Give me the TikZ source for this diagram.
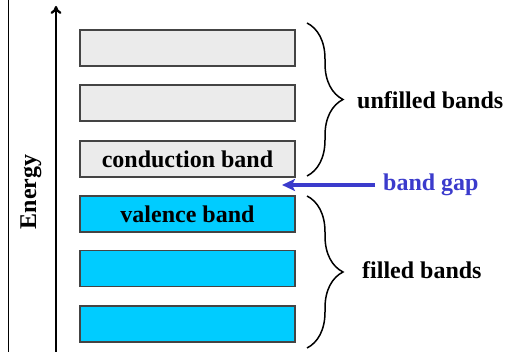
\documentclass[tikz,border=0pt]{standalone}
\usepackage{fontspec}
\setmainfont{Liberation Serif}
\usetikzlibrary{arrows.meta,decorations.pathreplacing}
\definecolor{bandgray}{HTML}{EBEBEB}
\definecolor{bandblue}{HTML}{00CCFF}
\definecolor{gapblue}{HTML}{3B3BCC}
\definecolor{edgegray}{HTML}{444444}
\tikzset{
  band/.style={draw=edgegray, line width=1.5pt, minimum width=215pt, minimum height=36pt, inner sep=0pt, font=\fontsize{24}{28}\selectfont\bfseries},
  emptyband/.style={band, fill=bandgray},
  fullband/.style={band, fill=bandblue},
  lbl/.style={font=\fontsize{24}{28}\selectfont\bfseries, inner sep=0pt},
  bracestyle/.style={decorate, decoration={brace, amplitude=36pt}, line width=1.5pt}
}
\begin{document}
\begin{tikzpicture}[x=1pt,y=1pt]
\useasboundingbox (0,0) rectangle (511,352);
% left border
\draw[line width=1.8pt] (8.5,0) -- (8.5,352);
% energy axis
\coordinate (ebot) at (56,0);
\coordinate (etop) at (56,346);
\draw[line width=2.3pt, -{To[length=8pt,width=11pt]}] (ebot) -- (etop);
\node[lbl, rotate=90] (energy) at (31,160) {Energy};
% bands
\node[emptyband] (b1) at (187.5,304) {};
\node[emptyband] (b2) at (187.5,249) {};
\node[emptyband] (b3) at (187.5,193) {conduction band};
\node[fullband] (b4) at (187.5,138) {valence band};
\node[fullband] (b5) at (187.5,83.5) {};
\node[fullband] (b6) at (187.5,28) {};
% braces
\coordinate (u1) at (307,329);
\coordinate (u2) at (307,176);
\coordinate (f1) at (307,156);
\coordinate (f2) at (307,4);
\draw[bracestyle] (u1) -- (u2);
\draw[bracestyle] (f1) -- (f2);
\node[lbl, anchor=west] (unf) at (357,252) {unfilled bands};
\node[lbl, anchor=west] (fil) at (362,82) {filled bands};
% band gap
\node[lbl, text=gapblue, anchor=west] (gap) at (383,167) {band gap};
\coordinate (gaptip) at (282,167);
\draw[gapblue, line width=3.4pt, -{Stealth[length=13pt,width=12pt,inset=3pt]}] ([xshift=-8pt]gap.west) -- (gaptip);
\end{tikzpicture}
\end{document}
